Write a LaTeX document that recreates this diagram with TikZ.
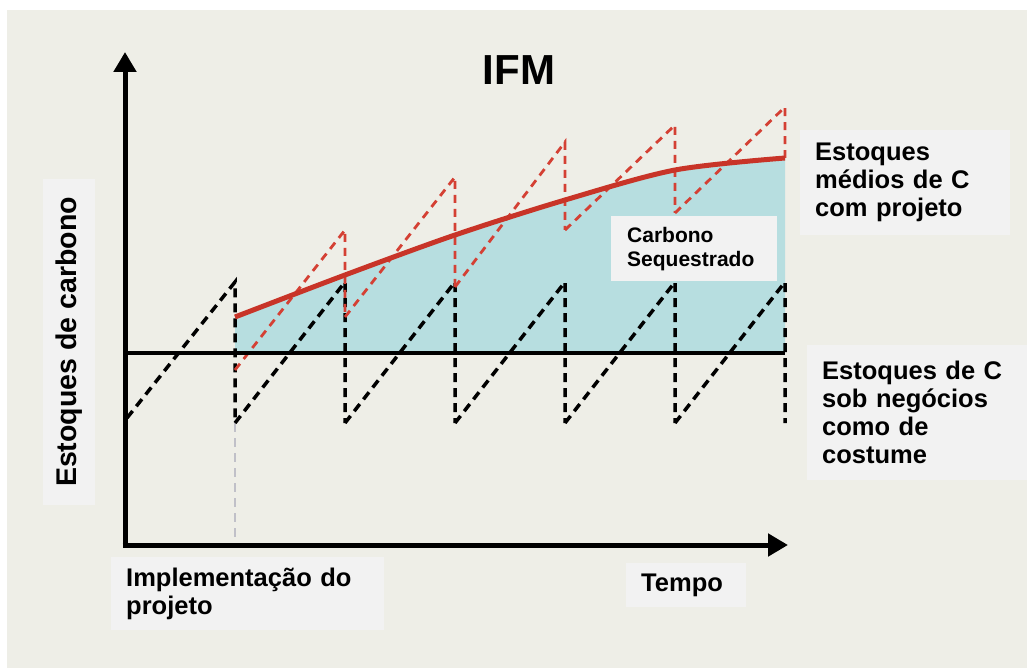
\documentclass[tikz,border=0pt]{standalone}
\usepackage{fontspec}
\setmainfont{Liberation Sans}
\usetikzlibrary{arrows.meta}
\definecolor{panel}{RGB}{238,238,231}
\definecolor{boxgray}{RGB}{242,242,242}
\definecolor{seq}{RGB}{183,222,224}
\definecolor{avgred}{RGB}{200,52,40}
\definecolor{sawred}{RGB}{212,64,52}
\definecolor{impgray}{RGB}{192,192,200}
\newcommand{\lblfont}{\fontsize{25.5}{28}\selectfont\bfseries}
\tikzset{lbl/.style={fill=boxgray, anchor=north west, inner xsep=15pt, inner ysep=0pt,
                     align=left, font=\lblfont},
         axis/.style={line width=5pt, -{Triangle[width=22pt,length=20pt]}},
         bau/.style={black, line width=3.5pt, dash pattern=on 9pt off 6pt},
         proj/.style={sawred, line width=2.8pt, dash pattern=on 8pt off 6pt}}

\begin{document}
\begin{tikzpicture}[x=1pt, y=-1pt]
    \useasboundingbox (0,0) rectangle (1027,668);
    \fill[white] (0,0) rectangle (1027,668);
    \fill[panel] (7,10) rectangle (1027,668);

    \coordinate (o) at (125,545);
    \coordinate (ytip) at (125,52);
    \coordinate (xtip) at (788,545);
    \coordinate (b0) at (125,353);
    \coordinate (b1) at (785,353);
    \coordinate (imp) at (235,423);
    \coordinate (impx) at (235,545);

    % sequestered carbon
    \fill[seq] (235,353) -- plot[smooth] coordinates
        {(235,317) (345,275) (455,235) (565,200) (675,170) (785,158)}
        -- (785,353) -- cycle;

    \draw[impgray, line width=2.5pt, dash pattern=on 9pt off 6pt] (imp) -- (impx);

    % business as usual
    \draw[bau] (127,418) -- (235,282) -- (235,423);
    \foreach \x in {235,345,455,565,675}
        \draw[bau] (\x,423) -- (\x+110,282) -- (\x+110,423);

    % with project
    \foreach \xa/\ya/\xb/\yb/\yc in {235/370/345/230/317, 345/317/455/177/287,
            455/287/565/142/230, 565/230/675/125/213, 675/213/785/107/158}
        \draw[proj] (\xa,\ya) -- (\xb,\yb) -- (\xb,\yc);

    \draw[line width=4pt] (b0) -- (b1);
    \draw[avgred, line width=5pt] plot[smooth] coordinates
        {(235,317) (345,275) (455,235) (565,200) (675,170) (785,158)};

    \draw[axis] (o) -- (ytip);
    \draw[axis] ([xshift=-2.5pt]o) -- (xtip);

    \node (ifm) at (519,70) {\fontsize{42}{46}\selectfont\bfseries IFM};
    \node (ylab) at (69,342) [rotate=90, fill=boxgray, minimum width=325pt,
        minimum height=52pt, inner sep=0pt, font=\fontsize{28.5}{30}\selectfont\bfseries]
        {Estoques de carbono};

    \node (avg) at (800,130) [lbl, text width=180pt, minimum height=105pt]
        {Estoques\\médios de C\\com projeto};
    \node (bl) at (807,345) [lbl, text width=190pt, minimum height=135pt]
        {Estoques de C\\sob negócios\\como de\\costume};
    \node (cs) at (611,216) [lbl, inner xsep=16pt, text width=134pt, minimum height=65pt,
        font=\fontsize{21}{24}\selectfont\bfseries] {Carbono\\Sequestrado};
    \node (impl) at (111,557) [lbl, text width=243pt, minimum height=73pt]
        {Implementação do\\projeto};
    \node (tempo) at (626,563) [lbl, text width=90pt, minimum height=44pt] {Tempo};
\end{tikzpicture}
\end{document}
